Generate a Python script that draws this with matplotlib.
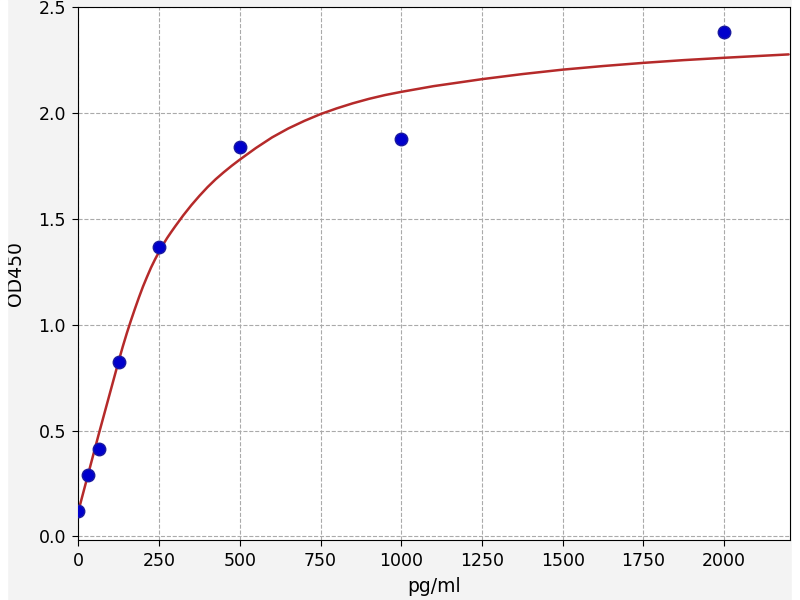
import matplotlib
matplotlib.use("Agg")
import matplotlib.pyplot as plt
from matplotlib.patches import Rectangle

# standard points
conc = [0, 31.25, 62.5, 125, 250, 500, 1000, 2000]
od = [0.118, 0.288, 0.413, 0.824, 1.368, 1.838, 1.879, 2.382]

# fitted curve
curve_x = [0, 31.25, 62.5, 100, 125, 137.5, 150, 162.5, 175, 187.5, 200, 212.5, 225,
           237.5, 250, 262.5, 275, 287.5, 300, 325, 350, 375, 400, 425, 450, 475, 500,
           550, 600, 650, 700, 750, 800, 850, 900, 950, 1000, 1100, 1250, 1375, 1500,
           1625, 1750, 1875, 2000, 2200]
curve_y = [0.12, 0.30, 0.48, 0.69, 0.83, 0.897, 0.96, 1.019, 1.075, 1.129, 1.18, 1.226,
           1.27, 1.309, 1.345, 1.379, 1.41, 1.438, 1.465, 1.517, 1.565, 1.609, 1.65, 1.687,
           1.72, 1.751, 1.78, 1.835, 1.885, 1.927, 1.963, 1.995, 2.022, 2.046, 2.067, 2.085,
           2.10, 2.127, 2.16, 2.184, 2.205, 2.222, 2.237, 2.25, 2.261, 2.277]

fig = plt.figure(figsize=(8, 6), dpi=100, facecolor="#f3f3f3")
ax = fig.add_axes([0.098, 0.1, 0.889, 0.888])
ax.set_facecolor("white")

ax.plot(curve_x, curve_y, color="#b52a2a", linewidth=1.8, zorder=2,
        solid_joinstyle="round", solid_capstyle="round")
ax.plot(conc, od, "o", color="#0000cc", markeredgecolor="#1a1aa0",
        markersize=9, zorder=3)

ax.set_xlim(0, 2203)
ax.set_ylim(-0.017, 2.5)
ax.set_xticks([0, 250, 500, 750, 1000, 1250, 1500, 1750, 2000])
ax.set_yticks([0.0, 0.5, 1.0, 1.5, 2.0, 2.5])
ax.grid(True, linestyle="--", color="#aaaaaa", linewidth=0.8)
ax.set_axisbelow(True)
ax.set_xlabel("pg/ml", fontsize=13.5, labelpad=5)
ax.set_ylabel("OD450", fontsize=13.5, labelpad=10)
ax.tick_params(labelsize=12.5, length=4, pad=5)

# white strips at the image edges
fig.add_artist(Rectangle((0, 0), 0.009, 1, color="white", transform=fig.transFigure))
fig.add_artist(Rectangle((0.99, 0), 0.01, 1, color="white", transform=fig.transFigure))

fig.savefig("out.png", dpi=100, facecolor=fig.get_facecolor())
